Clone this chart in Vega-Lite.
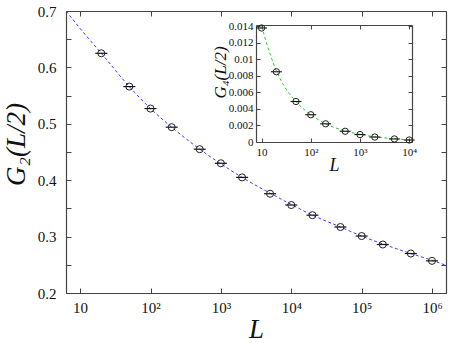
{
  "$schema": "https://vega.github.io/schema/vega-lite/v6.json",
  "width": 380,
  "height": 282,
  "autosize": {"type": "none"},
  "padding": {"left": 66, "top": 11, "right": 11, "bottom": 50},
  "background": "white",
  "config": {
    "view": {"stroke": null},
    "axis": {
      "labelFont": "Liberation Serif",
      "titleFont": "Liberation Serif",
      "grid": false,
      "domainColor": "#444",
      "domainWidth": 1.2,
      "tickColor": "#444",
      "labelColor": "#111",
      "titleColor": "#111",
      "titleFontWeight": "normal",
      "labelFlush": false,
      "labelOverlap": false
    }
  },
  "datasets": {
    "main": [
      {"L": 20, "G": 0.625}, {"L": 50, "G": 0.566}, {"L": 100, "G": 0.527},
      {"L": 200, "G": 0.494}, {"L": 500, "G": 0.455}, {"L": 1000, "G": 0.430},
      {"L": 2000, "G": 0.405}, {"L": 5000, "G": 0.376}, {"L": 10000, "G": 0.356},
      {"L": 20000, "G": 0.338}, {"L": 50000, "G": 0.317}, {"L": 100000, "G": 0.301},
      {"L": 200000, "G": 0.286}, {"L": 500000, "G": 0.270}, {"L": 1000000, "G": 0.257}
    ],
    "fit": [
      {"L": 6.31, "G": 0.700}, {"L": 10, "G": 0.669}, {"L": 20, "G": 0.625},
      {"L": 50, "G": 0.566}, {"L": 100, "G": 0.527}, {"L": 200, "G": 0.494},
      {"L": 500, "G": 0.455}, {"L": 1000, "G": 0.429}, {"L": 2000, "G": 0.405},
      {"L": 5000, "G": 0.377}, {"L": 10000, "G": 0.357}, {"L": 20000, "G": 0.338},
      {"L": 50000, "G": 0.317}, {"L": 100000, "G": 0.301}, {"L": 200000, "G": 0.287},
      {"L": 500000, "G": 0.270}, {"L": 1000000, "G": 0.258}, {"L": 1580000, "G": 0.249}
    ],
    "inset": [
      {"L": 10, "G": 0.0138}, {"L": 20, "G": 0.0085}, {"L": 50, "G": 0.0049},
      {"L": 100, "G": 0.0033}, {"L": 200, "G": 0.0022}, {"L": 500, "G": 0.0013},
      {"L": 1000, "G": 0.0009}, {"L": 2000, "G": 0.0006}, {"L": 5000, "G": 0.00037},
      {"L": 10000, "G": 0.00024}
    ],
    "insetfit": [
      {"L": 10, "G": 0.0140}, {"L": 15, "G": 0.0106}, {"L": 20, "G": 0.0086},
      {"L": 30, "G": 0.0066}, {"L": 50, "G": 0.0049}, {"L": 100, "G": 0.0033},
      {"L": 200, "G": 0.0022}, {"L": 500, "G": 0.00135}, {"L": 1000, "G": 0.00092},
      {"L": 2000, "G": 0.00063}, {"L": 5000, "G": 0.00038}, {"L": 11400, "G": 0.00024}
    ]
  },
  "layer": [
    {
      "layer": [
        {
          "data": {"name": "fit"},
          "mark": {"type": "line", "color": "#3d3dff", "strokeDash": [3, 2.5], "strokeWidth": 1, "interpolate": "monotone", "clip": true},
          "encoding": {
            "x": {
              "field": "L", "type": "quantitative",
              "scale": {"type": "log", "domain": [6.3, 1580000], "nice": false},
              "axis": {
                "orient": "bottom", "values": [10, 100, 1000, 10000, 100000, 1000000],
                "labelExpr": "'10' + ['', '', '²', '³', '⁴', '⁵', '⁶'][round(log(datum.value)/LN10)]",
                "tickSize": -5, "labelPadding": 12, "labelFontSize": 15,
                "title": "L", "titleFontSize": 27, "titleFontStyle": "italic", "titlePadding": 1
              }
            },
            "y": {
              "field": "G", "type": "quantitative",
              "scale": {"domain": [0.2, 0.7], "nice": false, "zero": false},
              "axis": {
                "orient": "left",
                "values": [0.2, 0.25, 0.3, 0.35, 0.4, 0.45, 0.5, 0.55, 0.6, 0.65, 0.7],
                "labelExpr": "abs(datum.value*10 - round(datum.value*10)) < 0.01 ? format(datum.value, '.1f') : ''",
                "tickSize": -5, "labelPadding": 15, "labelFontSize": 15,
                "title": "G₂(L/2)", "titleFontSize": 27, "titleFontStyle": "italic", "titlePadding": 7,
                "titleY": 133
              }
            }
          }
        },
        {
          "data": {"name": "main"},
          "mark": {"type": "point", "shape": "M-1,0L1,0", "size": 144, "color": "#111", "strokeWidth": 1.2, "opacity": 1},
          "encoding": {
            "x": {"field": "L", "type": "quantitative", "axis": null},
            "y": {"field": "G", "type": "quantitative", "axis": null}
          }
        },
        {
          "data": {"name": "main"},
          "mark": {"type": "point", "shape": "circle", "size": 50, "filled": false, "color": "#222", "strokeWidth": 1, "opacity": 1},
          "encoding": {
            "x": {"field": "L", "type": "quantitative", "axis": null},
            "y": {"field": "G", "type": "quantitative", "axis": null}
          }
        },
        {
          "data": {"name": "main"},
          "mark": {"type": "point", "opacity": 0},
          "encoding": {
            "x": {"field": "L", "type": "quantitative",
              "axis": {"orient": "top", "values": [10, 100, 1000, 10000, 100000, 1000000], "labels": false, "tickSize": -5, "title": null}},
            "y": {"field": "G", "type": "quantitative",
              "axis": {"orient": "right", "values": [0.2, 0.25, 0.3, 0.35, 0.4, 0.45, 0.5, 0.55, 0.6, 0.65, 0.7], "labels": false, "tickSize": -5, "title": null}}
          }
        }
      ],
      "resolve": {"axis": {"x": "independent", "y": "independent"}}
    },
    {
      "layer": [
        {
          "data": {"name": "insetfit"},
          "mark": {"type": "line", "color": "#2ecc2e", "strokeDash": [3, 2.5], "strokeWidth": 1, "interpolate": "monotone"},
          "encoding": {
            "x": {
              "field": "L", "type": "quantitative",
              "scale": {"type": "log", "domain": [7.7, 11400], "nice": false, "range": [190, 346]},
              "axis": {
                "orient": "bottom", "offset": -151, "values": [10, 100, 1000, 10000],
                "labelExpr": "'10' + ['', '', '²', '³', '⁴'][round(log(datum.value)/LN10)]",
                "tickSize": -4, "labelPadding": 8, "labelFontSize": 11,
                "title": "L", "titleFontSize": 18, "titleFontStyle": "italic", "titlePadding": -1
              }
            },
            "y": {
              "field": "G", "type": "quantitative",
              "scale": {"domain": [0, 0.01416], "nice": false, "zero": false, "range": [131, 14]},
              "axis": {
                "orient": "left", "offset": -190,
                "values": [0, 0.002, 0.004, 0.006, 0.008, 0.01, 0.012, 0.014],
                "labelExpr": "'' + datum.value",
                "tickSize": -4, "labelPadding": 7, "labelFontSize": 11,
                "title": "G₄(L/2)", "titleFontSize": 17, "titleFontStyle": "italic", "titlePadding": -1,
                "titleY": 61
              }
            }
          }
        },
        {
          "data": {"name": "inset"},
          "mark": {"type": "point", "shape": "M-1,0L1,0", "size": 120, "color": "#111", "strokeWidth": 1.1, "opacity": 1},
          "encoding": {
            "x": {"field": "L", "type": "quantitative", "axis": null},
            "y": {"field": "G", "type": "quantitative", "axis": null}
          }
        },
        {
          "data": {"name": "inset"},
          "mark": {"type": "point", "shape": "circle", "size": 40, "filled": false, "color": "#222", "strokeWidth": 1, "opacity": 1},
          "encoding": {
            "x": {"field": "L", "type": "quantitative", "axis": null},
            "y": {"field": "G", "type": "quantitative", "axis": null}
          }
        },
        {
          "data": {"name": "inset"},
          "mark": {"type": "point", "opacity": 0},
          "encoding": {
            "x": {"field": "L", "type": "quantitative",
              "axis": {"orient": "top", "offset": -14, "values": [10, 100, 1000, 10000], "labels": false, "tickSize": -4, "title": null}},
            "y": {"field": "G", "type": "quantitative",
              "axis": {"orient": "right", "offset": -34, "values": [0, 0.002, 0.004, 0.006, 0.008, 0.01, 0.012, 0.014], "labels": false, "tickSize": -4, "title": null}}
          }
        }
      ],
      "resolve": {"axis": {"x": "independent", "y": "independent"}}
    }
  ],
  "resolve": {
    "scale": {"x": "independent", "y": "independent"},
    "axis": {"x": "independent", "y": "independent"}
  }
}
